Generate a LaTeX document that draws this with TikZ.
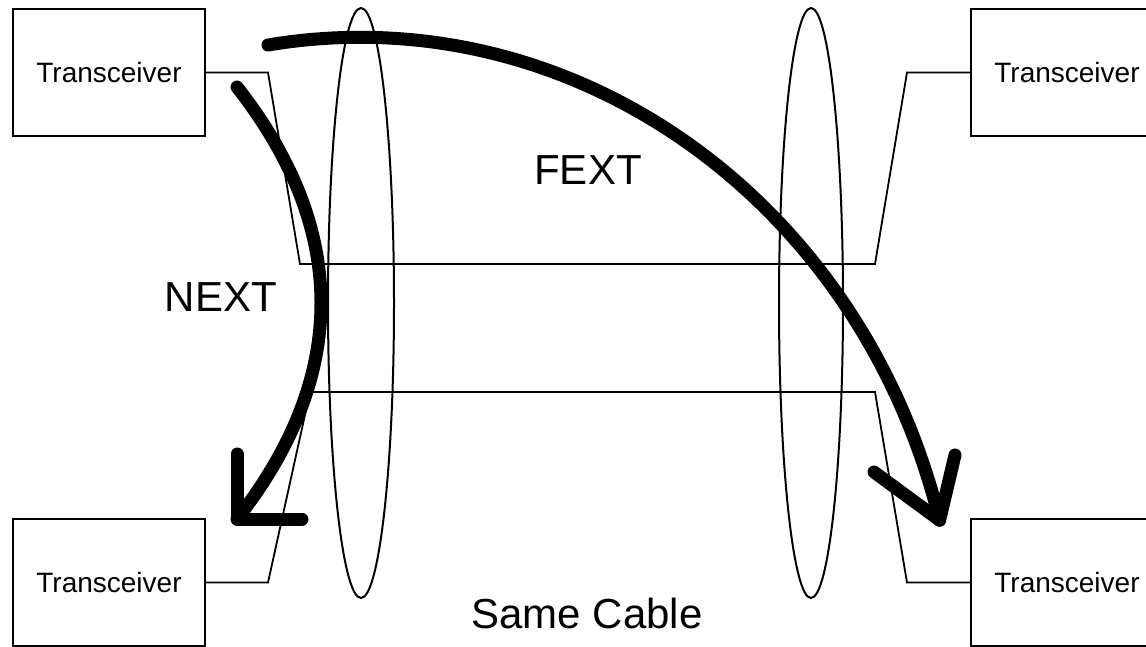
\documentclass[tikz,border=0pt]{standalone}
\usepackage{fontspec}
\setmainfont{Liberation Sans}
\begin{document}
\begin{tikzpicture}[x=1pt,y=-1pt,
  box/.style={draw, line width=2pt, minimum width=192pt, minimum height=127pt, inner sep=0pt, font=\fontsize{28}{32}\selectfont},
  wire/.style={line width=1.8pt, line join=miter},
  cable/.style={line width=2pt},
  thickarrow/.style={line width=13pt, line cap=round, line join=round},
  big/.style={font=\fontsize{42}{48}\selectfont, inner sep=0pt}]
\useasboundingbox (0,0) rectangle (1146,646);
\clip (0,0) rectangle (1146,646);

% transceivers
\node[box] (tl) at (109,72.5) {Transceiver};
\node[box] (bl) at (109,582.5) {Transceiver};
\node[box] (tr) at (1067,72.5) {Transceiver};
\node[box] (br) at (1067,582.5) {Transceiver};

% wires
\coordinate (a1) at (268,72.5);
\coordinate (a2) at (300,264);
\coordinate (a3) at (875,264);
\coordinate (a4) at (907,72.5);
\draw[wire] (tl.east) -- (a1) -- (a2) -- (a3) -- (a4) -- (tr.west);
\coordinate (b1) at (268,582.5);
\coordinate (b2) at (310,392);
\coordinate (b3) at (875,392);
\coordinate (b4) at (907,582.5);
\draw[wire] (bl.east) -- (b1) -- (b2) -- (b3) -- (b4) -- (br.west);

% cable ellipses
\draw[cable] (361,303) ellipse [x radius=33, y radius=295];
\draw[cable] (811,303) ellipse [x radius=32, y radius=295];

% NEXT arrow
\coordinate (ns) at (237,87);
\coordinate (nt) at (237,519);
\coordinate (nh1) at (237,454);
\coordinate (nh2) at (302,519);
\draw[thickarrow] (ns) .. controls (349,230) and (349,376) .. (nt);
\draw[thickarrow] (nh1) -- (nt) -- (nh2);

% FEXT arrow
\coordinate (fs) at (268,45);
\draw[thickarrow] (fs) arc[start angle=-98.8, end angle=-14.9, x radius=600, y radius=650] coordinate (ft);
\coordinate (fh1) at (955,455);
\coordinate (fh2) at (874,472);
\draw[thickarrow] (fh1) -- (ft) -- (fh2);

% labels
\node[big] (fext) at (588,170) {FEXT};
\node[big] (next) at (221,297) {NEXT};
\node[big] (samecable) at (587,613) {Same Cable};
\end{tikzpicture}
\end{document}
